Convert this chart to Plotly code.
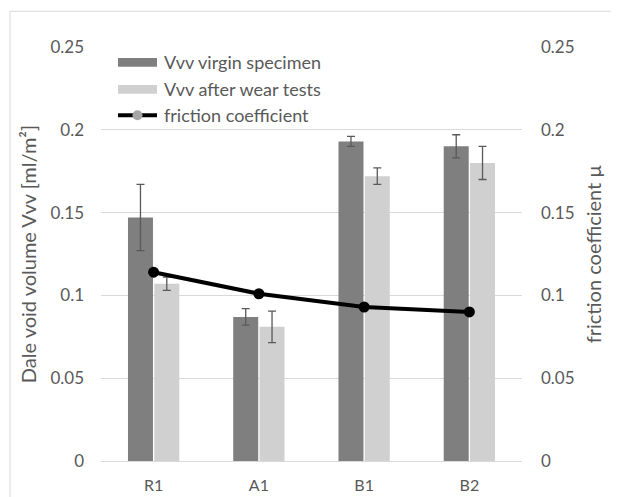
import plotly.graph_objects as go

categories = ["R1", "A1", "B1", "B2"]
vvv_virgin = [0.147, 0.087, 0.193, 0.190]
vvv_virgin_err = [0.020, 0.005, 0.003, 0.007]
vvv_after = [0.107, 0.081, 0.172, 0.180]
vvv_after_err = [0.004, 0.0095, 0.005, 0.010]
friction = [0.114, 0.101, 0.093, 0.090]
ticks = [0, 0.05, 0.1, 0.15, 0.2, 0.25]
tick_text = ["0", "0.05", "0.1", "0.15", "0.2", "0.25"]
series_names = ["Vvv virgin specimen", "Vvv after wear tests", "friction coefficient"]

FONT = "Lato, Open Sans, sans-serif"
GRAY = "#595959"
DARK = "#7f7f7f"
LIGHT = "#d0d0d0"

fig = go.Figure()
fig.add_trace(go.Bar(
    x=categories, y=vvv_virgin, name=series_names[0],
    marker=dict(color=DARK, line=dict(width=0)),
    error_y=dict(type="data", array=vvv_virgin_err, color=GRAY, thickness=1.3, width=4),
))
fig.add_trace(go.Bar(
    x=categories, y=vvv_after, name=series_names[1],
    marker=dict(color=LIGHT, line=dict(width=0)),
    error_y=dict(type="data", array=vvv_after_err, color=GRAY, thickness=1.3, width=4),
))
fig.add_trace(go.Scatter(
    x=categories, y=friction, name=series_names[2], yaxis="y2",
    mode="lines+markers",
    line=dict(color="black", width=4),
    marker=dict(color="black", size=11),
))

# manual legend (wide swatches like the original)
row_y = [0.963, 0.8978, 0.835]
sx0, sx1, tx = 0.0404, 0.1330, 0.1449
hh = 0.0105
shapes = [
    dict(type="rect", xref="paper", yref="paper", x0=-0.2162, x1=1.5, y0=-0.5, y1=1.0862,
         line=dict(color="#d9d9d9", width=1), fillcolor="rgba(0,0,0,0)", layer="below"),
    dict(type="rect", xref="paper", yref="paper", x0=sx0, x1=sx1, y0=row_y[0] - hh, y1=row_y[0] + hh,
         line=dict(width=0), fillcolor=DARK),
    dict(type="rect", xref="paper", yref="paper", x0=sx0, x1=sx1, y0=row_y[1] - hh, y1=row_y[1] + hh,
         line=dict(width=0), fillcolor=LIGHT),
    dict(type="line", xref="paper", yref="paper", x0=sx0, x1=sx1, y0=row_y[2], y1=row_y[2],
         line=dict(color="black", width=4)),
    dict(type="circle", xref="paper", yref="paper",
         x0=(sx0 + sx1) / 2 - 0.0119, x1=(sx0 + sx1) / 2 + 0.0119,
         y0=row_y[2] - 0.0121, y1=row_y[2] + 0.0121,
         line=dict(width=0), fillcolor="#a5a5a5"),
]
annotations = [
    dict(xref="paper", yref="paper", x=tx, y=ry, text=name, showarrow=False,
         xanchor="left", yanchor="middle", font=dict(family=FONT, size=18, color=GRAY))
    for ry, name in zip(row_y, series_names)
]

fig.update_layout(
    width=611, height=489,
    margin=dict(l=93, r=97, t=39, b=36, autoexpand=False),
    paper_bgcolor="white", plot_bgcolor="white",
    font=dict(family=FONT, size=17, color=GRAY),
    barmode="group", bargap=0.5, bargroupgap=0.05,
    showlegend=False,
    xaxis=dict(showgrid=False, showline=True, linecolor="#d9d9d9", linewidth=1, automargin=False,
               ticks="", ticklabelstandoff=10, tickfont=dict(size=16, color=GRAY)),
    yaxis=dict(range=[0, 0.25], tickvals=ticks, ticktext=tick_text, automargin=False,
               showgrid=True, gridcolor="#d9d9d9", gridwidth=1, zeroline=False,
               showline=False, ticks="", ticklabelstandoff=16,
               title=dict(text="Dale void volume Vvv [ml/m²]", font=dict(size=20, color=GRAY), standoff=8),
               tickfont=dict(size=17, color=GRAY)),
    yaxis2=dict(range=[0, 0.25], tickvals=ticks, ticktext=tick_text, overlaying="y", side="right",
                automargin=False,
                showgrid=False, zeroline=False, showline=False, ticks="", ticklabelstandoff=18,
                title=dict(text="friction coefficient µ", font=dict(size=20, color=GRAY), standoff=13),
                tickfont=dict(size=17, color=GRAY)),
    shapes=shapes,
    annotations=annotations,
)

fig.write_html("out.html")
